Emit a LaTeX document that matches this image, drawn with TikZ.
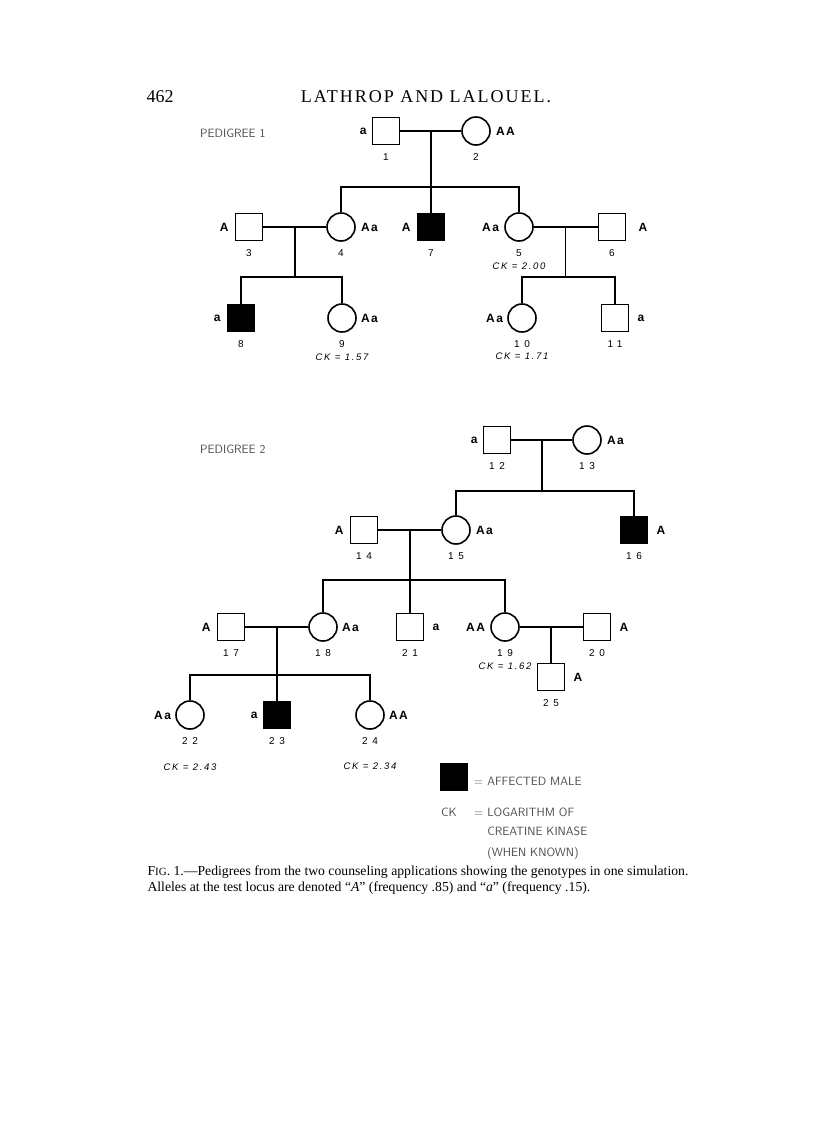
\documentclass[tikz,border=0pt]{standalone}
\usepackage{fontspec}
\setmainfont{Liberation Serif}
\newfontfamily\headfont[LetterSpace=11]{Liberation Serif}
\newfontfamily\genofont[LetterSpace=12]{Liberation Sans}
\newfontfamily\numfont[LetterSpace=45]{Liberation Sans}
\newfontfamily\ckfont[LetterSpace=18]{Liberation Sans}
\usetikzlibrary{positioning,calc}

\begin{document}
\begin{tikzpicture}[x=1pt,y=1pt,
    male/.style={draw, line width=1.6pt, minimum size=27pt, inner sep=0pt},
    female/.style={circle, draw, line width=1.6pt, minimum size=28pt, inner sep=0pt},
    affected/.style={male, fill=black},
    link/.style={line width=1.2pt},
    geno/.style={inner sep=0pt, font=\genofont\bfseries\fontsize{12}{12}\selectfont},
    num/.style={inner sep=0pt, font=\numfont\fontsize{10}{10}\selectfont},
    ck/.style={inner sep=0pt, font=\ckfont\itshape\fontsize{9.5}{9.5}\selectfont},
    legend/.style={inner sep=0pt, anchor=west, text=black!70,
      font=\sffamily\addfontfeature{LetterSpace=25}\fontsize{12}{12}\selectfont}]
\useasboundingbox (0,0) rectangle (816,-1122);

% header
\node[anchor=west, font=\fontsize{18}{18}\selectfont] (page) at (143,-97) {462};
\node[font=\headfont\fontsize{18}{18}\selectfont] (head) at (426,-97) {LATHROP AND LALOUEL.};

% ---------------- pedigree 1
\node[legend] (ped1) at (200,-133) {PEDIGREE 1};

\node[male] (p1) at (386,-131) {};
\node[female] (p2) at (476,-131) {};
\node[male] (p3) at (249,-227) {};
\node[female] (p4) at (341,-227) {};
\node[affected] (p7) at (431,-227) {};
\node[female] (p5) at (519,-227) {};
\node[male] (p6) at (612,-227) {};
\node[affected] (p8) at (241,-318) {};
\node[female] (p9) at (342,-318) {};
\node[female] (p10) at (522,-318) {};
\node[male] (p11) at (615,-318) {};

\coordinate (m12) at ($(p1)!.5!(p2)$);
\coordinate (m34) at ($(p3)!.5!(p4)$);
\coordinate (m56) at ($(p5)!.5!(p6)$);
\coordinate (s12) at (m12 |- 0,-187);
\coordinate (s34) at (m34 |- 0,-277);
\coordinate (s56) at (m56 |- 0,-277);

\draw[link] (p1) -- (p2);
\draw[link] (m12) -- (s12) -- (p7);
\draw[link] (p4.north) |- (s12) -| (p5.north);
\draw[link] (p3) -- (p4);
\draw[link] (m34) -- (s34);
\draw[link] (p8.north) |- (s34) -| (p9.north);
\draw[link] (p5) -- (p6);
\draw[link] (m56) -- (s56);
\draw[link] (p10.north) |- (s56) -| (p11.north);

\node[geno, left=5pt of p1] (g1) {a};
\node[geno, right=5pt of p2] (g2) {AA};
\node[geno, left=6pt of p3] (g3) {A};
\node[geno, right=5pt of p4] (g4) {Aa};
\node[geno, left=6pt of p7] (g7) {A};
\node[geno, left=5pt of p5] (g5) {Aa};
\node[geno, right=12pt of p6] (g6) {A};
\node[geno, left=6pt of p8] (g8) {a};
\node[geno, right=4pt of p9] (g9) {Aa};
\node[geno, left=4pt of p10] (g10) {Aa};
\node[geno, right=8pt of p11] (g11) {a};

\foreach \i in {1,...,11}
  \node[num, below=8pt of p\i] (n\i) {\i};
\node[ck, below=5pt of n5] (ck5) {CK = 2.00};
\node[ck, below=5pt of n9] (ck9) {CK = 1.57};
\node[ck, below=4pt of n10] (ck10) {CK = 1.71};

% ---------------- pedigree 2
\node[legend] (ped2) at (200,-449) {PEDIGREE 2};

\node[male] (p12) at (497,-440) {};
\node[female] (p13) at (587,-440) {};
\node[male] (p14) at (364,-530) {};
\node[female] (p15) at (456,-530) {};
\node[affected] (p16) at (634,-530) {};
\node[male] (p17) at (231,-627) {};
\node[female] (p18) at (323,-627) {};
\node[male] (p21) at (410,-627) {};
\node[female] (p19) at (505,-627) {};
\node[male] (p20) at (597,-627) {};
\node[female] (p22) at (190,-715) {};
\node[affected] (p23) at (277,-715) {};
\node[female] (p24) at (370,-715) {};
\node[male] (p25) at (551,-677) {};

\coordinate (m1213) at ($(p12)!.5!(p13)$);
\coordinate (m1415) at ($(p14)!.5!(p15)$);
\coordinate (m1718) at ($(p17)!.5!(p18)$);
\coordinate (m1920) at ($(p19)!.5!(p20)$);
\coordinate (s1213) at (m1213 |- 0,-491);
\coordinate (s1415) at (m1415 |- 0,-580);
\coordinate (s1718) at (m1718 |- 0,-675);

\draw[link] (p12) -- (p13);
\draw[link] (m1213) -- (s1213);
\draw[link] (p15.north) |- (s1213) -| (p16.north);
\draw[link] (p14) -- (p15);
\draw[link] (m1415) -- (s1415) -- (p21);
\draw[link] (p18.north) |- (s1415) -| (p19.north);
\draw[link] (p17) -- (p18);
\draw[link] (m1718) -- (s1718) -- (p23);
\draw[link] (p22.north) |- (s1718) -| (p24.north);
\draw[link] (p19) -- (p20);
\draw[link] (m1920) -- (p25);

\node[geno, left=5pt of p12] (g12) {a};
\node[geno, right=5pt of p13] (g13) {Aa};
\node[geno, left=6pt of p14] (g14) {A};
\node[geno, right=5pt of p15] (g15) {Aa};
\node[geno, right=8pt of p16] (g16) {A};
\node[geno, left=6pt of p17] (g17) {A};
\node[geno, right=4pt of p18] (g18) {Aa};
\node[geno, right=8pt of p21] (g21) {a};
\node[geno, left=5pt of p19] (g19) {AA};
\node[geno, right=8pt of p20] (g20) {A};
\node[geno, right=8pt of p25] (g25) {A};
\node[geno, left=4pt of p22] (g22) {Aa};
\node[geno, left=5pt of p23] (g23) {a};
\node[geno, right=4pt of p24] (g24) {AA};

\foreach \i in {12,...,25}
  \node[num, below=8pt of p\i] (n\i) {\i};
\node[ck, below=5pt of n19] (ck19) {CK = 1.62};
\node[ck, below=18pt of n22] (ck22) {CK = 2.43};
\node[ck, below=17pt of n24] (ck24) {CK = 2.34};

% ---------------- key
\node[affected] (key) at (454,-777) {};
\node[legend] (keytext) at (474,-781) {= AFFECTED MALE};
\node[legend] (ckname) at (441,-812) {CK};
\node[legend] (cktext) at (474,-812) {= LOGARITHM OF};
\node[legend] (cktext2) at (cktext.west -| keytext.west) [yshift=-19pt] {\phantom{= }CREATINE KINASE};
\node[legend] (cktext3) at (cktext2.west) [yshift=-22pt] {\phantom{= }(WHEN KNOWN)};

% caption
\node[anchor=west, font=\fontsize{13.7}{16}\selectfont] (cap1) at (144,-872)
  {F{\fontsize{11}{11}\selectfont IG}. 1.---Pedigrees from the two counseling applications showing the genotypes in one simulation.};
\node[anchor=west, font=\fontsize{13.7}{16}\selectfont] (cap2) at (144,-888)
  {Alleles at the test locus are denoted ``\textit{A}'' (frequency .85) and ``\textit{a}'' (frequency .15).};
\end{tikzpicture}
\end{document}
